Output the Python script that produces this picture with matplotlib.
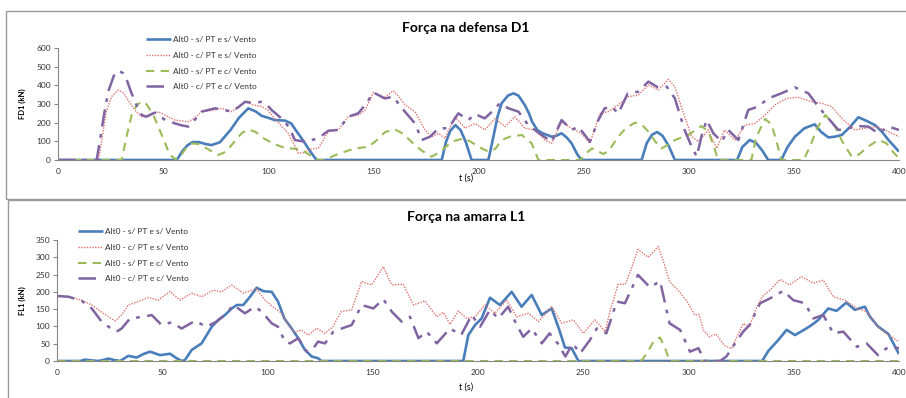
import matplotlib
matplotlib.use("Agg")
import matplotlib.pyplot as plt
from matplotlib.patches import Rectangle

plt.rcParams['font.family'] = ['Lato', 'DejaVu Sans']

labels = ["Alt0 - s/ PT e s/ Vento", "Alt0 - c/ PT e s/ Vento",
          "Alt0 - s/ PT e c/ Vento", "Alt0 - c/ PT e c/ Vento"]
x_ticks = [0, 50, 100, 150, 200, 250, 300, 350, 400]

# ---- Forca na defensa D1 ----
d1_blue_t = [0, 56.5, 59, 61.5, 64, 67, 70, 73, 77, 82, 86, 90.5, 94, 97, 100, 103, 108, 111, 113, 115,
             117.5, 120, 123, 182.5, 184.5, 186.5, 189, 191.5, 194, 196.7, 204.7, 207, 209, 211, 214,
             216.6, 219, 222, 224, 225.5, 228, 230.5, 234.8, 237, 239.5, 242, 244.3, 247, 249, 277.6,
             280, 282.5, 285, 287.5, 290.5, 293.4, 323, 325.5, 329, 332, 335, 337.8, 344, 347, 350.5,
             355, 359.9, 363, 366.4, 369.5, 372.8, 376.5, 380.7, 384.5, 388.6, 392, 395, 400]
d1_blue_v = [0, 0, 45, 78, 96, 96, 86, 80, 95, 160, 225, 277, 260, 236, 226, 214, 211, 195, 161, 130,
             89, 45, 0, 0, 95, 155, 187, 160, 95, 0, 0, 120, 230, 304, 345,
             357, 345, 295, 250, 205, 160, 143, 125, 130, 143, 120, 89, 30, 0, 0,
             90, 135, 150, 130, 75, 0, 0, 70, 107, 92, 50, 0, 0, 70, 125,
             170, 191, 150, 121, 125, 134, 175, 229, 210, 187, 150, 107, 45]

d1_red_t = [0, 19.3, 21, 23, 25.5, 28.7, 31, 34, 37, 39.8, 43, 47.7, 51, 55.6, 62, 65, 68.3, 73, 77.8,
            82.6, 86, 89, 93, 96.9, 100, 103, 106, 109.5, 112, 114.3, 117, 119, 121.5, 123.8, 128.6,
            133.3, 138, 142.8, 146, 150, 154.7, 159.5, 162, 165, 169.8, 174.5, 177.7, 181, 184, 188.8,
            193.6, 198.3, 203, 207.9, 212.6, 217.3, 222, 226.9, 231.6, 234.8, 239.5, 244.3, 249, 253,
            257.8, 261.7, 266.5, 271.2, 276, 280.8, 285.5, 290.3, 293.4, 297.5, 301.4, 304.6, 309.3,
            313.3, 317, 322, 326.8, 331.5, 336.3, 341, 346.6, 352, 358.5, 363.3, 368, 372.8, 379,
            383.8, 388.6, 393.4, 400]
d1_red_v = [0, 0, 120, 260, 340, 375, 360, 310, 262, 232, 235, 259, 240, 214, 205, 225, 259, 265, 277,
            259, 285, 312, 295, 286, 265, 223, 185, 143, 90, 36, 40, 54, 60, 62, 152,
            161, 232, 241, 265, 362, 330, 371, 340, 295, 259, 161, 125, 143, 116, 232,
            170, 196, 161, 223, 179, 232, 170, 161, 107, 89, 205, 170, 143, 89,
            250, 259, 295, 339, 348, 402, 375, 432, 393, 250, 125, 98, 161,
            62, 161, 107, 187, 196, 241, 295, 330, 336, 312, 304, 286, 223, 161,
            170, 179, 161, 125]

d1_green_t = [0, 30.3, 32.5, 35, 37.5, 39.8, 42, 45, 48, 51, 53, 56.4, 58.5, 61, 63.6, 67, 71, 76.3,
              80, 84, 87.5, 90.5, 94, 98, 102, 106, 109.5, 113, 115.9, 120, 123.8, 127, 131.6, 136.5,
              141, 147.6, 151, 155.6, 160.3, 164, 169.8, 173, 177.7, 182, 187.2, 192.8, 196, 200,
              204.7, 208, 211, 215, 220.6, 225.3, 228.5, 248.5, 251, 254, 259.4, 262, 266.5, 270,
              274.4, 278, 280.8, 284, 287, 290, 293.4, 299.8, 306, 309.4, 312, 314, 329.8, 332,
              336.3, 339.4, 342, 344, 354.6, 358, 361, 365, 369.6, 373, 377.5, 381, 385, 390.2,
              394, 397, 400]
d1_green_v = [0, 0, 120, 240, 295, 312, 300, 250, 170, 90, 30, 0, 25, 65, 89, 85, 60, 27,
              45, 100, 145, 164, 150, 115, 90, 72, 62, 60, 54, 25, 0, 0, 25, 45,
              61, 71, 100, 150, 164, 141, 80, 50, 18, 45, 98, 116, 100, 71,
              45, 60, 107, 125, 134, 89, 0, 0, 35, 62, 32, 50, 125, 170,
              200, 185, 152, 100, 62, 80, 107, 134, 182, 152, 70, 0, 0, 120,
              220, 190, 90, 0, 0, 80, 170, 241, 179, 100, 18, 30, 70, 107,
              90, 45, 9]

d1_purple_t = [0, 18.4, 20, 22, 24, 26.5, 28.7, 31, 33, 35, 37.5, 39.8, 42, 46, 51, 55.6, 59, 62, 65,
               68.3, 74.7, 79, 82.6, 86, 89, 93, 96.9, 99, 101.6, 105, 108, 110.5, 112.7, 117.5,
               123.8, 128.6, 133.3, 138, 142.8, 146.5, 150, 155.5, 159.5, 162, 165, 169.8, 173, 177,
               181, 185.7, 190.4, 195.2, 198.3, 203, 206.5, 210.2, 214.2, 219, 223.7, 230, 234.8,
               239.5, 244.3, 247.5, 253, 257, 260, 263.3, 266.5, 271, 276, 280.8, 285.5, 289.5,
               293.4, 298, 301.4, 303.8, 306, 308.5, 311.7, 315.6, 318.8, 323.6, 328.3, 333, 337.8,
               344, 350.5, 356.9, 361.6, 366.4, 371.2, 376, 380.7, 385.4, 390.2, 395, 400]
d1_purple_v = [0, 0, 110, 250, 370, 450, 479, 465, 420, 357, 290, 241, 232, 254, 214, 196, 185, 179, 215,
               259, 277, 268, 259, 285, 312, 305, 312, 300, 268, 235, 205, 160, 107, 98,
               116, 157, 161, 232, 250, 300, 362, 330, 339, 300, 259, 196, 107, 125,
               170, 170, 250, 214, 246, 223, 260, 304, 277, 259, 187, 134, 98,
               214, 161, 179, 98, 214, 277, 286, 250, 357, 366, 420, 388, 393,
               330, 161, 71, 18, 125, 214, 143, 98, 161, 107, 268, 286, 330,
               357, 389, 357, 286, 223, 161, 170, 182, 179, 143, 179, 161]

# ---- Forca na amarra L1 ----
l1_blue_t = [0, 11, 13.3, 16, 19.6, 22, 24.4, 27, 30, 33.9, 37.8, 41, 44.2, 49, 53.7, 56.8, 59.2, 60.8,
             64, 68.7, 73.5, 76.6, 79.8, 83, 85.4, 88.5, 91.7, 94.9, 98, 102, 105, 108, 111.5, 114.6,
             117.8, 121, 124, 125.7, 193, 195.4, 198.6, 201.7, 205.7, 210.4, 216, 220.7, 225.5,
             230.3, 235, 238.9, 241.3, 244.5, 247.7, 335, 337.9, 342.7, 346.6, 350.6, 355.4, 358.5,
             361.7, 366.4, 370.3, 375, 379, 383.8, 386, 390, 395, 400]
l1_blue_v = [0, 0, 4, 2, 0, 3, 7, 3, 0, 15, 10, 20, 27, 17, 21, 8, 0, 3,
             32, 51, 99, 119, 133, 152, 162, 162, 186, 212, 202, 200, 172, 123, 94, 66,
             32, 13, 8, 0, 0, 75, 104, 123, 183, 162, 200, 157, 191,
             133, 152, 85, 39, 37, 0, 0, 29, 61, 90, 75, 92, 104,
             119, 152, 145, 169, 148, 157, 130, 100, 78, 20]

l1_red_t = [0, 5.4, 11.7, 16.5, 21.2, 27.6, 30.7, 33.9, 38.6, 43.4, 48.1, 53.7, 58.4, 64, 68.7, 74.3,
            78.2, 83, 88.5, 92.5, 94.9, 98.8, 103.6, 106.7, 110, 113, 116, 119.4, 123.4, 127.3, 131,
            135, 140, 144.7, 149.5, 155, 159, 164.5, 169.3, 174.8, 180.4, 183.5, 186.7, 190.7,
            194.6, 198.6, 203.3, 208, 213.6, 218.4, 223.9, 228.7, 235, 239.8, 245.3, 250, 255.6,
            260.3, 263, 266.6, 270, 273, 276, 280.9, 285.6, 288, 291, 295, 299, 303, 305, 307,
            310, 313, 317, 320.5, 323, 326, 329, 332, 335, 338.7, 343.5, 348, 353.7, 359.3, 364,
            368.8, 374.3, 380, 384.6, 390, 395, 400]
l1_red_v = [188, 186, 176, 162, 141, 116, 133, 162, 172, 184, 176, 201, 176, 196, 186, 205,
            200, 220, 196, 205, 208, 176, 152, 138, 104, 83, 90, 75, 95, 80, 99,
            143, 148, 230, 220, 273, 220, 222, 162, 174, 128, 141, 106, 145,
            123, 128, 162, 138, 176, 128, 138, 114, 157, 109, 119, 80, 119,
            85, 150, 222, 222, 270, 323, 300, 331, 290, 230, 205, 175, 133, 135, 90,
            70, 78, 45, 36, 70, 108, 100, 150, 186, 205, 236, 220, 244, 225, 234,
            186, 176, 152, 143, 99, 75, 56]

l1_green_t = [0, 276, 278, 281, 283.5, 286.5, 289, 291, 400]
l1_green_v = [0, 0, 3, 30, 58, 68, 35, 0, 0]

l1_purple_t = [0, 5.4, 11.7, 16.5, 21.2, 25.2, 28.3, 30.7, 34.7, 41, 45, 49.7, 54.5, 59.2, 65.6, 71,
               75.8, 79.8, 83.8, 89.3, 94, 97.2, 102, 105, 108.3, 110.7, 114.6, 118.6, 121.8, 124,
               127.3, 131.3, 135.2, 140, 144.7, 150.3, 155, 159, 163.7, 167.7, 171.7, 175.6, 180.4,
               186.7, 192, 197, 201, 205.7, 209.6, 214.3, 218.4, 221.5, 225.5, 230.3, 234, 238,
               241.5, 245, 248.5, 253.2, 256.4, 261, 265.9, 269.8, 276, 281.7, 286.5, 291, 296,
               300.7, 304.7, 307.8, 315, 318, 322, 326, 329, 334, 338.7, 345, 349.8, 355.3, 359.3,
               364, 368.8, 373.5, 380, 384.6, 390, 395, 400]
l1_purple_v = [188, 186, 174, 152, 114, 96, 85, 94, 123, 128, 133, 104, 112, 94, 116, 99,
               114, 133, 162, 138, 157, 143, 109, 99, 56, 51, 66, 27, 37, 56,
               51, 85, 94, 104, 162, 152, 179, 143, 114, 128, 66, 85, 51,
               94, 75, 133, 99, 148, 123, 157, 104, 70, 94, 51, 80, 50,
               13, 51, 22, 61, 94, 80, 172, 167, 249, 213, 231, 109, 90,
               27, 37, 0, 0, 13, 50, 85, 104, 167, 181, 203, 176, 167, 123,
               133, 80, 85, 41, 51, 17, 41, 37]

colors = ["#4a7ebb", "#e0726d", "#9bbb59", "#8064a2"]
styles = [dict(lw=1.9, ls="-"),
          dict(lw=1.0, ls=(0, (1, 1))),
          dict(lw=1.5, ls=(0, (4, 3))),
          dict(lw=1.8, ls=(0, (7, 3, 1.5, 3)))]
axis_col = "#868686"

fig = plt.figure(figsize=(9.06, 3.98), dpi=100)
W, H = 906, 398

# chart frames
fig.patches.append(Rectangle((6 / W, 1 - 199 / H), 1.0, 188 / H, transform=fig.transFigure,
                             fill=False, ec="#9a9a9a", lw=1.0))
fig.patches.append(Rectangle((8 / W, -0.05), 1.0, 1 - 200 / H + 0.05, transform=fig.transFigure,
                             fill=False, ec="#9a9a9a", lw=1.0))


def make_axes(rect, series, ymax, ystep, title, ylabel, leg_anchor, title_y, xlab_y):
    ax = fig.add_axes(rect)
    for (t, v), c, st in zip(series, colors, styles):
        ax.plot(t, v, color=c, solid_capstyle="butt", **st)
    ax.set_xlim(0, 400)
    ax.set_ylim(0, ymax)
    ax.set_xticks(x_ticks)
    ax.set_yticks(range(0, ymax + 1, ystep))
    for s in ["top", "right"]:
        ax.spines[s].set_visible(False)
    for s in ["left", "bottom"]:
        ax.spines[s].set_color(axis_col)
        ax.spines[s].set_linewidth(0.8)
    ax.tick_params(axis="both", colors=axis_col, labelcolor="#333333", labelsize=6,
                   length=3, width=0.8, pad=2)
    ax.tick_params(axis="x", length=0, pad=6)
    fig.text(466 / W, 1 - title_y / H, title, ha="center", va="center",
             fontsize=10, fontweight="bold")
    fig.text(22 / W, rect[1] + rect[3] / 2, ylabel, ha="center", va="center",
             rotation=90, fontsize=5.5, fontweight="bold")
    fig.text(466 / W, 1 - xlab_y / H, "t (s)", ha="center", va="center", fontsize=6.5)
    leg = ax.legend(labels, loc="upper left", bbox_to_anchor=leg_anchor,
                    bbox_transform=fig.transFigure, frameon=False, fontsize=6,
                    handlelength=3.0, handletextpad=0.2, labelspacing=1.05,
                    borderpad=0, borderaxespad=0)
    for txt in leg.get_texts():
        txt.set_color("#333333")
    return ax


make_axes([58 / W, 1 - 160 / H, 841 / W, 112 / H],
          [(d1_blue_t, d1_blue_v), (d1_red_t, d1_red_v),
           (d1_green_t, d1_green_v), (d1_purple_t, d1_purple_v)],
          600, 100, "Força na defensa D1", "FD1 (kN)",
          (146 / W, 1 - 36 / H), 28, 178)

make_axes([57 / W, 1 - 361 / H, 842 / W, 121 / H],
          [(l1_blue_t, l1_blue_v), (l1_red_t, l1_red_v),
           (l1_green_t, l1_green_v), (l1_purple_t, l1_purple_v)],
          350, 50, "Força na amarra L1", "FL1 (kN)",
          (78 / W, 1 - 228 / H), 217, 387)

fig.savefig("out.png", dpi=100)
